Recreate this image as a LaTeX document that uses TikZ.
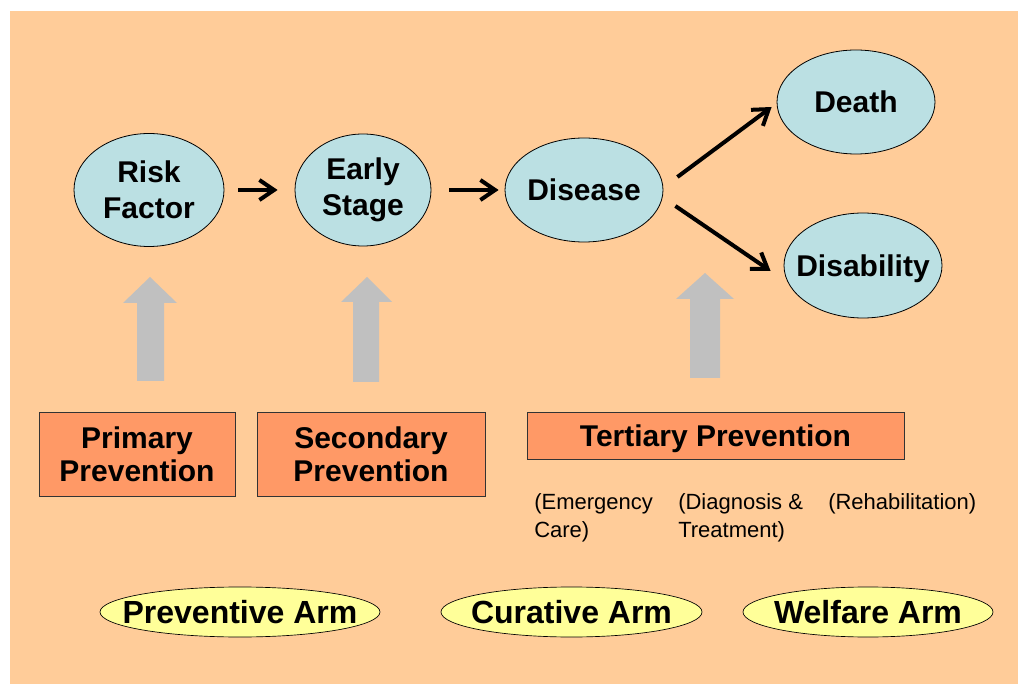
\documentclass[tikz,border=0pt]{standalone}
\usepackage{fontspec}
\setmainfont{Liberation Sans}
\usetikzlibrary{arrows.meta,shapes.geometric,calc}
\definecolor{pagebg}{HTML}{FFCC99}
\definecolor{stagefill}{HTML}{BBE0E3}
\definecolor{boxfill}{HTML}{FF9966}
\definecolor{armfill}{HTML}{FFFF99}
\definecolor{liftgray}{HTML}{C0C0C0}

\begin{document}
\begin{tikzpicture}[x=0.75pt,y=-0.75pt,
  stage/.style={ellipse, draw=black, line width=0.6pt, fill=stagefill, inner sep=0pt},
  stagetext/.style={font=\bfseries\fontsize{22.5}{27}\selectfont, align=center},
  flow/.style={line width=3pt, -{Straight Barb[length=11pt,width=15pt]}},
  level/.style={draw=black!80, line width=0.6pt, fill=boxfill, inner sep=0pt,
    font=\bfseries\fontsize{22.5}{25}\selectfont, align=center},
  arm/.style={ellipse, draw=black, line width=0.5pt, fill=armfill, inner sep=0pt},
  armtext/.style={font=\bfseries\fontsize{24}{28}\selectfont, text depth=0pt},
  note/.style={anchor=north west, inner sep=0pt, align=left,
    font=\fontsize{16.5}{21}\selectfont},
  lift/.style={fill=liftgray}
]
% page and background panel
\useasboundingbox (0,0) rectangle (1018,684);
\fill[pagebg] (10,11) rectangle (1018,684);

% course of the illness
\node[stage, minimum width=112.5pt, minimum height=84.75pt,
  label={[stagetext]center:Risk\\Factor}] (risk) at (149,190) {};
\node[stage, minimum width=102pt, minimum height=84pt,
  label={[stagetext]center:Early\\Stage}] (early) at (363,190) {};
\node[stage, minimum width=118.5pt, minimum height=78pt,
  label={[stagetext, text depth=0pt]center:Disease}] (disease) at (584,190) {};
\node[stage, minimum width=118.5pt, minimum height=78pt,
  label={[stagetext, text depth=0pt]center:Death}] (death) at (856,102) {};
\node[stage, minimum width=118.5pt, minimum height=78.75pt,
  label={[stagetext, text depth=0pt]center:Disability}] (disab) at (863,265.5) {};

\draw[flow, shorten <=10.5pt, shorten >=12.75pt] (risk) -- (early);
\draw[flow, shorten <=13.5pt, shorten >=4.5pt] (early) -- (disease);
\draw[flow] ($(disease.east)+(14,-13)$) -- ($(death.west)+(-5,5)$);
\draw[flow] ($(disease.east)+(12,16)$) -- ($(disab.west)+(-13,5.5)$);

% upward block arrows
\fill[lift] (150,277) -- (177,303) -- (164,303) -- (164,381) -- (137,381)
  -- (137,303) -- (123,303) -- cycle;
\fill[lift] (367,277) -- (392,302) -- (379,302) -- (379,382) -- (353,382)
  -- (353,302) -- (341,302) -- cycle;
\fill[lift] (705,273) -- (734,299) -- (720,299) -- (720,378) -- (690,378)
  -- (690,299) -- (676,299) -- cycle;

% levels of prevention
\node[level, minimum width=147pt, minimum height=63pt] (primary) at (137,454)
  {Primary\\Prevention};
\node[level, minimum width=171pt, minimum height=63pt] (secondary) at (371,454)
  {Secondary\\Prevention};
\node[level, minimum width=282.75pt, minimum height=35.25pt, text depth=0pt]
  (tertiary) at (715.5,435.5) {Tertiary Prevention};

\node[note] (emergency) at (534,493) {(Emergency\\Care)};
\node[note] (diagnosis) at (678,493) {(Diagnosis \&\\Treatment)};
\node[note] (rehab) at (828,493) {(Rehabilitation)};

% arms of the health system
\node[arm, minimum width=210pt, minimum height=37.5pt,
  label={[armtext]center:Preventive Arm}] (preventive) at (240,612) {};
\node[arm, minimum width=195.75pt, minimum height=37.5pt,
  label={[armtext]center:Curative Arm}] (curative) at (571.5,612) {};
\node[arm, minimum width=187.5pt, minimum height=37.5pt,
  label={[armtext]center:Welfare Arm}] (welfare) at (868,612) {};
\end{tikzpicture}
\end{document}
